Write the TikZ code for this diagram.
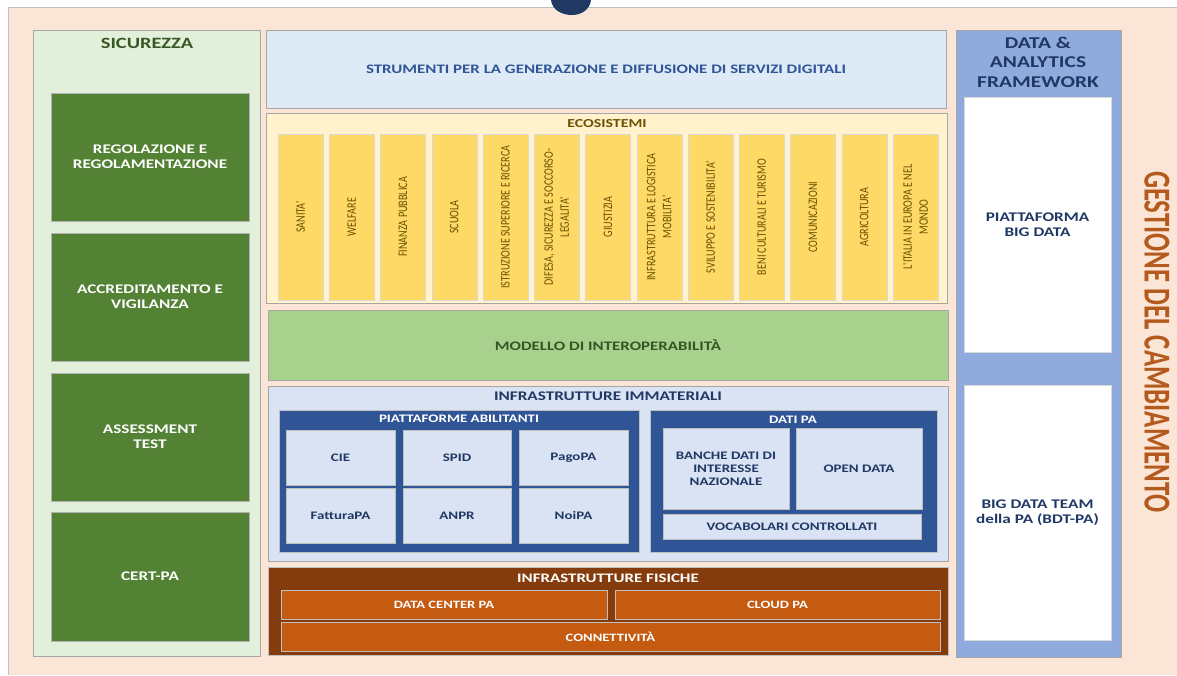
\documentclass[tikz,border=0pt]{standalone}
\usepackage{fontspec}
\setmainfont{Carlito}
\newfontfamily\calw[FakeStretch=1.3]{Carlito}
\newfontfamily\calnarrow[FakeStretch=0.78]{Carlito}
\newfontfamily\gestfont[FakeStretch=0.705]{Carlito}
\definecolor{peach}{HTML}{FBE5D6}
\definecolor{sicbg}{HTML}{E2EFDA}
\definecolor{gbox}{HTML}{548235}
\definecolor{sictitle}{HTML}{385723}
\definecolor{strbg}{HTML}{DEEBF7}
\definecolor{strtext}{HTML}{2F5597}
\definecolor{ecobg}{HTML}{FFF2CC}
\definecolor{ecocolc}{HTML}{FFD966}
\definecolor{ecotextc}{HTML}{6B5000}
\definecolor{modbg}{HTML}{A9D18E}
\definecolor{modtext}{HTML}{375623}
\definecolor{immbg}{HTML}{DAE3F3}
\definecolor{navyc}{HTML}{2F5597}
\definecolor{immtext}{HTML}{203864}
\definecolor{fisbg}{HTML}{843C0C}
\definecolor{fisbox}{HTML}{C55A11}
\definecolor{dafbg}{HTML}{8FAADC}
\definecolor{gestc}{HTML}{B55A1E}
\definecolor{titlenavy}{HTML}{1F3864}
\newcommand\mybox[7]{\node[#6, anchor=north west, minimum width={(#4)-(#2)}, minimum height={(#5)-(#3)}] (#1) at (#2,#3) {#7};}
\newcommand\ecocolumn[3]{\node[ecocolbox, anchor=north west] (#1) at ({278+51.25*#2},134) {};
  \node[ecotxt, rotate=90] (#1t) at (#1.center) {#3};}
\newcommand\wf[2]{\calw\bfseries\fontsize{#1}{#2}\selectfont}
\begin{document}
\begin{tikzpicture}[x=1pt,y=-1pt,
  every node/.style={inner sep=0pt, outer sep=0pt},
  panel/.style={draw=black!35, line width=0.8pt},
  greenbox/.style={fill=gbox, draw=black!30, line width=0.6pt, text=white, align=center,
    font={\wf{13.2}{15}}},
  titlesic/.style={text=sictitle, font={\wf{15.7}{18}}},
  ecocolbox/.style={fill=ecocolc, draw=black!15, line width=0.5pt, minimum width=45, minimum height=166},
  ecotxt/.style={text=ecotextc, align=center, font={\calnarrow\fontsize{13}{16}\selectfont}},
  calhead/.style={font={\wf{13}{16}}},
  navybox/.style={fill=navyc, draw=black!25, line width=0.6pt},
  lightbox/.style={fill=immbg, draw=black!25, line width=0.5pt, text=immtext, align=center,
    font={\wf{11.5}{13}}},
  whitehead/.style={text=white, font={\wf{11.5}{13}}},
  orangebox/.style={fill=fisbox, draw=black!25, line width=0.6pt, text=white,
    font={\wf{11.2}{13}}},
  whitebox/.style={fill=white, draw=black!15, line width=0.5pt, text=immtext, align=center,
    font={\wf{13.2}{15}}}
]
\useasboundingbox (0,0) rectangle (1177,675);
% background
\fill[white] (0,0) rectangle (1177,675);
\mybox{bg}{8}{7}{1177}{675}{fill=peach}{}
\draw[black!25, line width=0.8pt] (bg.south west) -- (bg.north west) -- (bg.north east);

% Sicurezza
\mybox{sic}{33}{30}{260}{656}{panel, fill=sicbg}{}
\node[titlesic] (sict) at (147,43) {SICUREZZA};
\mybox{reg}{51}{93}{249}{221}{greenbox}{REGOLAZIONE E\\REGOLAMENTAZIONE}
\mybox{acc}{51}{233}{249}{361}{greenbox}{ACCREDITAMENTO E\\VIGILANZA}
\mybox{ass}{51}{373}{249}{501}{greenbox}{ASSESSMENT\\TEST}
\mybox{cert}{51}{512}{249}{641}{greenbox}{CERT-PA}

% Strumenti
\mybox{str}{266}{30}{946}{108}{panel, fill=strbg, text=strtext, calhead}{STRUMENTI PER LA GENERAZIONE E DIFFUSIONE DI SERVIZI DIGITALI}

% Ecosistemi
\mybox{eco}{266}{113}{947}{303}{panel, fill=ecobg}{}
\node[text=ecotextc, font={\wf{12.2}{14}}] (ecot) at (607,124) {ECOSISTEMI};
\ecocolumn{e0}{0}{SANITA'}
\ecocolumn{e1}{1}{WELFARE}
\ecocolumn{e2}{2}{FINANZA PUBBLICA}
\ecocolumn{e3}{3}{SCUOLA}
\ecocolumn{e4}{4}{ISTRUZIONE SUPERIORE E RICERCA}
\ecocolumn{e5}{5}{DIFESA, SICUREZZA E SOCCORSO-\\LEGALITA'}
\ecocolumn{e6}{6}{GIUSTIZIA}
\ecocolumn{e7}{7}{INFRASTRUTTURA E LOGISTICA\\MOBILITA'}
\ecocolumn{e8}{8}{SVILUPPO E SOSTENIBILITA'}
\ecocolumn{e9}{9}{BENI CULTURALI E TURISMO}
\ecocolumn{e10}{10}{COMUNICAZIONI}
\ecocolumn{e11}{11}{AGRICOLTURA}
\ecocolumn{e12}{12}{L'ITALIA IN EUROPA E NEL\\MONDO}

% Modello
\mybox{mod}{268}{310}{948}{380}{panel, fill=modbg, text=modtext, calhead}{MODELLO DI INTEROPERABILITÀ}

% Infrastrutture immateriali
\mybox{imm}{268}{386}{948}{561}{panel, fill=immbg}{}
\node[text=immtext, font={\wf{13.2}{15}}] (immt) at (608,396) {INFRASTRUTTURE IMMATERIALI};
\mybox{pab}{279}{410}{639}{552}{navybox}{}
\node[whitehead] (pabt) at (459,419) {PIATTAFORME ABILITANTI};
\mybox{cie}{286}{430}{395}{485}{lightbox}{CIE}
\mybox{spid}{403}{430}{511}{485}{lightbox}{SPID}
\mybox{pago}{519}{430}{628}{485}{lightbox}{PagoPA}
\mybox{fatt}{286}{488}{395}{543}{lightbox}{FatturaPA}
\mybox{anpr}{403}{488}{511}{543}{lightbox}{ANPR}
\mybox{noi}{519}{488}{628}{543}{lightbox}{NoiPA}
\mybox{dpa}{650}{410}{937}{552}{navybox}{}
\node[whitehead] (dpat) at (793,420) {DATI PA};
\mybox{banche}{663}{428}{789}{509}{lightbox}{BANCHE DATI DI\\INTERESSE\\NAZIONALE}
\mybox{open}{796}{428}{922}{509}{lightbox}{OPEN DATA}
\mybox{voc}{663}{514}{921}{539}{lightbox}{VOCABOLARI CONTROLLATI}

% Infrastrutture fisiche
\mybox{fis}{268}{567}{948}{655}{fill=fisbg, draw=black!25, line width=0.6pt}{}
\node[text=white, font={\wf{13}{16}}] (fist) at (608,578) {INFRASTRUTTURE FISICHE};
\mybox{dc}{281}{590}{607}{619}{orangebox}{DATA CENTER PA}
\mybox{cloud}{615}{590}{940}{619}{orangebox}{CLOUD PA}
\mybox{conn}{281}{622}{940}{651}{orangebox}{CONNETTIVITÀ}

% Data & analytics framework
\mybox{daf}{956}{30}{1121}{657}{fill=dafbg, draw=black!35, line width=0.8pt}{}
\node[text=immtext, align=center, font={\wf{16.5}{19.5}}] (daft) at (1038,62) {DATA \&\\ANALYTICS\\FRAMEWORK};
\mybox{pbd}{964}{97}{1111}{352}{whitebox}{PIATTAFORMA\\BIG DATA}
\mybox{bdt}{964}{385}{1111}{640}{whitebox}{BIG DATA TEAM\\della PA (BDT-PA)}

% Gestione del cambiamento
\node[rotate=-90, text=gestc, font={\gestfont\bfseries\fontsize{38}{40}\selectfont}] (gest) at (1157,342) {GESTIONE DEL CAMBIAMENTO};

% cut-off title glyph at top
\fill[titlenavy] (551,0) .. controls (552,10) and (562,15) .. (572,15) .. controls (582,15) and (590,9) .. (591,0) -- cycle;
\end{tikzpicture}
\end{document}
